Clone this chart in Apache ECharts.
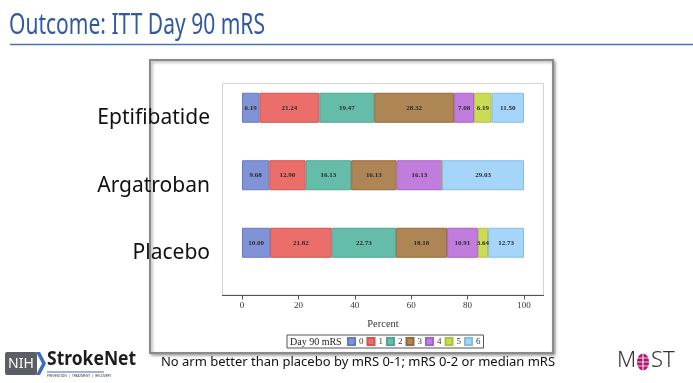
<!DOCTYPE html>
<html>
<head>
<meta charset="utf-8">
<script src="https://cdn.jsdelivr.net/npm/echarts@6/dist/echarts.min.js"></script>
<style>
html,body{margin:0;padding:0;background:#fff;}
#chart{width:693px;height:383px;}
</style>
</head>
<body>
<div id="chart"></div>
<script>
// ---- data ----
const arms = ['Eptifibatide', 'Argatroban', 'Placebo'];
const mrsLevels = ['0', '1', '2', '3', '4', '5', '6'];
const mrs0 = [6.19, 9.68, 10.00];
const mrs1 = [21.24, 12.90, 21.82];
const mrs2 = [19.47, 16.13, 22.73];
const mrs3 = [28.32, 16.13, 18.18];
const mrs4 = [7.08, 16.13, 10.91];
const mrs5 = [6.19, 0, 3.64];
const mrs6 = [11.50, 29.03, 12.73];
const xTicks = [0, 20, 40, 60, 80, 100];
const titleText = 'Outcome: ITT Day 90 mRS';
const footText = 'No arm better than placebo by mRS 0-1; mRS 0-2 or median mRS';
const legendTitle = 'Day 90 mRS';
const axisName = 'Percent';

// ---- styles ----
const fills = ['#7F93D6', '#EC6E6A', '#65BCA8', '#AE8555', '#C17DDD', '#CADB55', '#A5D5F8'];
const borders = ['#6679C0', '#D4524F', '#4FA590', '#94693B', '#A862C6', '#B1C23F', '#86BCE4'];
const serif = '"Liberation Serif", "DejaVu Serif", serif';
const sans = '"Noto Sans", "Open Sans", sans-serif';

const allVals = [mrs0, mrs1, mrs2, mrs3, mrs4, mrs5, mrs6];

const series = mrsLevels.map((lv, i) => ({
  name: lv,
  type: 'bar',
  stack: 'total',
  barWidth: 30,
  data: allVals[i],
  itemStyle: { color: fills[i], borderColor: borders[i], borderWidth: 1 },
  label: {
    show: true,
    position: 'inside',
    formatter: p => (p.value > 0 ? p.value.toFixed(2) : ''),
    fontFamily: serif,
    fontSize: 7,
    fontWeight: 'bold',
    color: '#2a2a2a'
  },
  emphasis: { disabled: true }
}));

const chart = echarts.init(document.getElementById('chart'), null, { renderer: 'canvas' });
chart.setOption({
  animation: false,
  backgroundColor: '#ffffff',
  grid: { left: 242, right: 169, top: 74, height: 202.5, containLabel: false },
  xAxis: {
    type: 'value',
    min: xTicks[0],
    max: xTicks[xTicks.length - 1],
    interval: xTicks[1] - xTicks[0],
    offset: 19,
    axisLine: { show: false },
    axisTick: { show: true, length: 4, lineStyle: { color: '#555' } },
    splitLine: { show: false },
    axisLabel: { fontFamily: serif, fontSize: 9, color: '#333', margin: 6 },
    name: axisName,
    nameLocation: 'middle',
    nameGap: 23,
    nameTextStyle: { fontFamily: serif, fontSize: 10.5, color: '#333' }
  },
  yAxis: {
    type: 'category',
    data: arms,
    inverse: true,
    axisLine: { show: false },
    axisTick: { show: false },
    axisLabel: {
      fontFamily: sans,
      fontSize: 21,
      color: '#111',
      margin: 32,
      verticalAlign: 'top'
    }
  },
  legend: {
    data: mrsLevels,
    left: 287,
    top: 335,
    orient: 'horizontal',
    padding: [2, 3, 2, 60],
    borderColor: '#555',
    borderWidth: 1,
    itemWidth: 7,
    itemHeight: 7,
    itemGap: 3,
    icon: 'rect',
    selectedMode: false,
    textStyle: { fontFamily: serif, fontSize: 9, color: '#333', padding: [0, 0, 0, -1] }
  },
  graphic: [
    // slide title
    { type: 'text', x: 9, y: 11, scaleX: 0.725, z: 10,
      style: { text: titleText, fontFamily: sans, fontSize: 29, fill: '#30599E' } },
    { type: 'line', z: 10, shape: { x1: 10, y1: 44.5, x2: 693, y2: 44.5 },
      style: { stroke: '#4A72B5', lineWidth: 1.5 } },
    // outer chart box
    { type: 'rect', z: -10, shape: { x: 150, y: 60, width: 403, height: 293 },
      style: { fill: '#fff', stroke: '#8a8a8a', lineWidth: 2,
               shadowBlur: 3, shadowOffsetX: 1.5, shadowOffsetY: 1.5, shadowColor: 'rgba(0,0,0,0.35)' } },
    // inner plot panel
    { type: 'rect', z: -9, shape: { x: 222.5, y: 83.5, width: 321, height: 211.5 },
      style: { fill: '#fff', stroke: '#d4d4d4', lineWidth: 1 } },
    { type: 'line', z: 5, shape: { x1: 222, y1: 295.5, x2: 544, y2: 295.5 },
      style: { stroke: '#555', lineWidth: 1 } },
    // legend title
    { type: 'text', x: 290, y: 342, z: 10,
      style: { text: legendTitle, fontFamily: serif, fontSize: 10, fill: '#222', textVerticalAlign: 'middle' } },
    // footnote
    { type: 'text', x: 358, y: 362, z: 10,
      style: { text: footText, fontFamily: sans, fontSize: 13, fill: '#111', textAlign: 'center', textVerticalAlign: 'middle' } },
    // NIH StrokeNet logo
    { type: 'rect', z: 10, shape: { x: 5, y: 352, width: 32, height: 23, r: 2 }, style: { fill: '#5b5e63' } },
    { type: 'text', x: 21, y: 364, z: 11,
      style: { text: 'NIH', fontFamily: sans, fontSize: 14, fill: '#fff', textAlign: 'center', textVerticalAlign: 'middle' } },
    { type: 'polygon', z: 11, shape: { points: [[36, 352], [40, 352], [46, 363.5], [40, 375], [36, 375], [42, 363.5]] },
      style: { fill: '#3b6fb6' } },
    { type: 'text', x: 47, y: 350, scaleX: 0.92, z: 11,
      style: { text: 'StrokeNet', fontFamily: sans, fontSize: 19, fontWeight: 'bold', fill: '#1d1d1d' } },
    { type: 'line', z: 11, shape: { x1: 47, y1: 372, x2: 104, y2: 372 }, style: { stroke: '#3b6fb6', lineWidth: 1.2 } },
    { type: 'text', x: 47, y: 374, scaleX: 0.85, z: 11,
      style: { text: 'PREVENTION  |  TREATMENT  |  RECOVERY', fontFamily: sans, fontSize: 3.8, fill: '#333' } },
    // MOST logo
    { type: 'text', x: 617, y: 350, z: 11,
      style: { text: 'M', fontFamily: sans, fontSize: 22, fontWeight: 300, fill: '#333' } },
    { type: 'ellipse', z: 11, shape: { cx: 643, cy: 362, rx: 6, ry: 8.5 }, style: { fill: '#B3176D' } },
    { type: 'line', z: 12, shape: { x1: 643, y1: 353, x2: 643, y2: 371 }, style: { stroke: '#fff', lineWidth: 1 } },
    { type: 'line', z: 12, shape: { x1: 636, y1: 358, x2: 650, y2: 358 }, style: { stroke: '#fff', lineWidth: 0.8 } },
    { type: 'line', z: 12, shape: { x1: 636, y1: 362, x2: 650, y2: 362 }, style: { stroke: '#fff', lineWidth: 0.8 } },
    { type: 'line', z: 12, shape: { x1: 636, y1: 366, x2: 650, y2: 366 }, style: { stroke: '#fff', lineWidth: 0.8 } },
    { type: 'text', x: 651, y: 350, z: 11,
      style: { text: 'ST', fontFamily: sans, fontSize: 22, fontWeight: 300, fill: '#333' } }
  ],
  series: series
});
</script>
</body>
</html>
